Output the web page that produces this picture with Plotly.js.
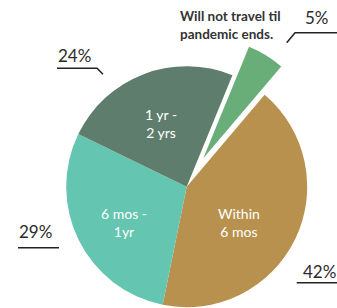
<!DOCTYPE html>
<html>
<head>
<meta charset="utf-8">
<script src="https://cdn.plot.ly/plotly-3.0.1.min.js"></script>
<style>html,body{margin:0;padding:0;background:#fff;}#chart{width:337px;height:308px;}</style>
</head>
<body>
<div id="chart"></div>
<script>
// ---- data ----
const categories = ['Will not travel til pandemic ends.', 'Within 6 mos', '6 mos - 1yr', '1 yr - 2 yrs'];
const values = [5, 42, 29, 24];
const insideLabels = ['', 'Within<br>6 mos', '6 mos -<br>1yr', '1 yr -<br>2 yrs'];
const outsideNote = 'Will not travel til<br>pandemic ends.';
const colors = ['#69ad78', '#b9914e', '#64c5b0', '#5f7d6c'];

// ---- layout helpers (pixel -> paper) ----
const W = 337, H = 308;
const px = x => x / W;
const py = y => 1 - y / H;
const R = 120.5;
function dom(cx, cy) {
  return { x: [px(cx - R), px(cx + R)], y: [py(cy + R), py(cy - R)] };
}
const T = 'rgba(0,0,0,0)';
const rot = 22.3;

const mainColors = colors.map((c, i) => i === 0 ? T : c);
const pulledColors = colors.map((c, i) => i === 0 ? c : T);

const traces = [
  { type: 'pie', values: values, labels: categories, sort: false, direction: 'clockwise',
    rotation: rot, marker: { colors: mainColors, line: { width: 0 } }, textinfo: 'none',
    hoverinfo: 'none', domain: dom(186.7, 186.7), showlegend: false },
  { type: 'pie', values: values, labels: categories, sort: false, direction: 'clockwise',
    rotation: rot, marker: { colors: pulledColors, line: { width: 0 } }, textinfo: 'none',
    hoverinfo: 'none', domain: dom(203.3, 158.3), showlegend: false }
];

const font = 'Lato, "Open Sans", sans-serif';
const pctPos = [[316.7, 17.5], [319, 271], [35.5, 231], [74.5, 55]];
const insidePos = [null, [238.8, 222], [123.8, 222], [160.5, 123]];

const annotations = [];
values.forEach((v, i) => {
  annotations.push({ xref: 'paper', yref: 'paper', x: px(pctPos[i][0]), y: py(pctPos[i][1]),
    xanchor: 'center', yanchor: 'middle', showarrow: false, text: v + '%',
    font: { family: font, size: 17, color: '#2b2b2b' } });
  if (insidePos[i]) {
    annotations.push({ xref: 'paper', yref: 'paper', x: px(insidePos[i][0]), y: py(insidePos[i][1]),
      xanchor: 'center', yanchor: 'middle', showarrow: false, text: insideLabels[i],
      font: { family: font, size: 14, color: '#ffffff' } });
  }
});
annotations.push({ xref: 'paper', yref: 'paper', x: px(178), y: py(25), xanchor: 'left', yanchor: 'middle',
  align: 'left', showarrow: false, text: '<b>' + outsideNote + '</b>',
  font: { family: font, size: 13.5, color: '#333333' } });

function pathOf(pts) {
  return pts.map((p, i) => (i ? 'L' : 'M') + px(p[0]) + ',' + py(p[1])).join(' ');
}
const lineStyle = { color: '#222222', width: 1.5 };
const leaders = [
  [[286.7, 42.7], [295, 32.7], [337, 32.7]],
  [[296.7, 282.7], [337, 282.7]],
  [[18, 247.7], [59, 247.7]],
  [[57, 68.3], [97, 68.3], [103, 74.3]]
];
const shapes = leaders.map(pts => ({ type: 'path', xref: 'paper', yref: 'paper', path: pathOf(pts), line: lineStyle }));

Plotly.newPlot('chart', traces, {
  width: W, height: H, margin: { l: 0, r: 0, t: 0, b: 0 },
  paper_bgcolor: '#ffffff', plot_bgcolor: '#ffffff', showlegend: false,
  annotations: annotations, shapes: shapes
}, { displayModeBar: false, staticPlot: true });
</script>
</body>
</html>
